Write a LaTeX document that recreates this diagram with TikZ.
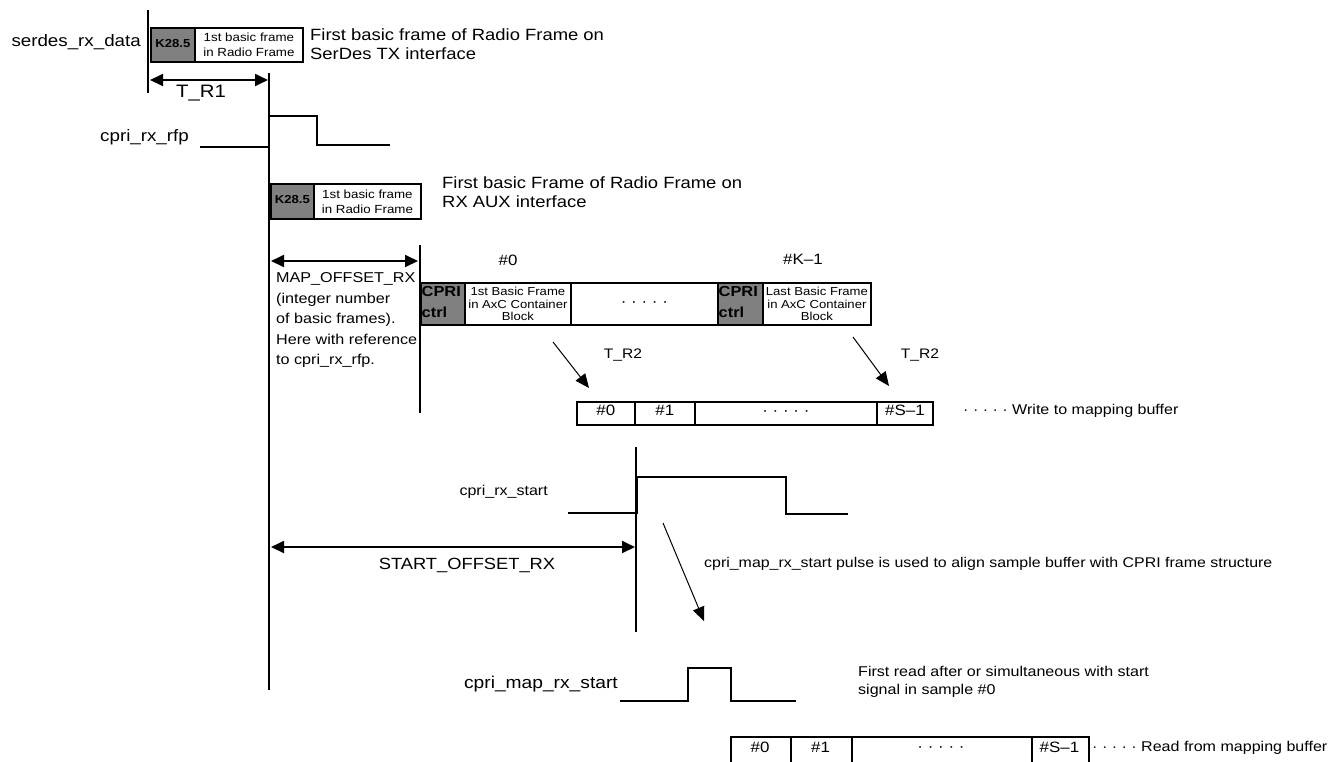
\documentclass[tikz,border=0pt]{standalone}
\usepackage{fontspec}
\setmainfont{Liberation Sans}[FakeStretch=1.13]
\usetikzlibrary{arrows.meta}
\definecolor{ctrlgray}{RGB}{128,128,128}
\tikzset{
  lw/.style={line width=1.8pt},
  sig/.style={line width=1.8pt, line join=miter},
  dimarrow/.style={line width=1.8pt, {Triangle[length=13pt,width=12pt]}-{Triangle[length=13pt,width=12pt]}},
  tarrow/.style={line width=1pt, -{Triangle[length=14pt,width=12pt]}},
  cell/.style={draw, line width=1.8pt, inner sep=0pt, anchor=north west},
  graycell/.style={cell, fill=ctrlgray},
  txt/.style={inner sep=0pt, text height=0.72em, text depth=0.21em},
  mtxt/.style={inner sep=0pt},
  fbig/.style={font=\fontsize{16.3}{19}\selectfont},
  fsig/.style={font=\fontsize{16.6}{19}\selectfont},
  fmed/.style={font=\fontsize{14.2}{19}\selectfont},
  fnum/.style={font=\fontsize{15}{18}\selectfont},
  fsmall/.style={font=\fontsize{11.8}{15}\selectfont},
  fcell/.style={font=\fontsize{11.6}{12.5}\selectfont},
  fk/.style={font=\bfseries\fontsize{11.6}{13}\selectfont},
  fctrl/.style={font=\bfseries\fontsize{14.5}{21}\selectfont},
}
\begin{document}
\begin{tikzpicture}[x=1pt,y=-1pt]
\useasboundingbox (0,0) rectangle (1337,761);

% ---- reference vertical lines
\coordinate (l1t) at (148,10);  \coordinate (l1b) at (148,93);
\coordinate (l2t) at (269,73);  \coordinate (l2b) at (269,690);
\coordinate (l3t) at (420,245); \coordinate (l3b) at (420,413);
\coordinate (l4t) at (636,447); \coordinate (l4b) at (636,632);
\draw[lw] (l1t) -- (l1b);
\draw[lw] (l2t) -- (l2b);
\draw[lw] (l3t) -- (l3b);
\draw[lw] (l4t) -- (l4b);

% ---- serdes_rx_data
\node[txt, fsig, anchor=east] (serdes) at (141,44) {serdes\_rx\_data};
\node[graycell, minimum width=44pt, minimum height=34pt] (k1) at (150,27) {};
\node[cell, minimum width=108pt, minimum height=34pt] (bf1) at (194,27) {};
\node[txt, fk] (k1t) at (k1.center) {K28.5};
\node[mtxt, fsmall, align=center] (bf1t) at (bf1.center) {1st basic frame\\in Radio Frame};
\node[mtxt, fbig, align=left, anchor=west] (note1) at (310,44) {First basic frame of Radio Frame on\\SerDes TX interface};

% ---- T_R1
\coordinate (tr1a) at (150,80); \coordinate (tr1b) at (268,80);
\draw[dimarrow] (tr1a) -- (tr1b);
\node[txt, font=\fontsize{18}{20}\selectfont] (tr1) at (201,95) {T\_R1};

% ---- cpri_rx_rfp
\node[txt, fsig, anchor=east] (rfp) at (189,139) {cpri\_rx\_rfp};
\coordinate (rfp0) at (200,147); \coordinate (rfp1) at (269,147);
\coordinate (rfp2) at (269,116); \coordinate (rfp3) at (317,116);
\coordinate (rfp4) at (317,145); \coordinate (rfp5) at (390,145);
\draw[sig] (rfp0) -- (rfp1) -- (rfp2) -- (rfp3) -- (rfp4) -- (rfp5);

% ---- RX AUX first basic frame
\node[graycell, minimum width=43pt, minimum height=35pt] (k2) at (270,183) {};
\node[cell, minimum width=107pt, minimum height=35pt] (bf2) at (313,183) {};
\node[txt, fk] (k2t) at (k2.center) {K28.5};
\node[mtxt, fsmall, align=center] (bf2t) at (bf2.center) {1st basic frame\\in Radio Frame};
\node[mtxt, fbig, align=left, anchor=west] (note2) at (442,192) {First basic Frame of Radio Frame on\\RX AUX interface};

% ---- MAP_OFFSET_RX
\coordinate (mapa) at (271,261); \coordinate (mapb) at (418,261);
\draw[dimarrow] (mapa) -- (mapb);
\node[mtxt, font=\fontsize{14.3}{20.5}\selectfont, align=left, anchor=west] (maptxt) at (276,320)
  {MAP\_OFFSET\_RX\\(integer number\\of basic frames).\\Here with reference\\to cpri\_rx\_rfp.};

% ---- AxC container blocks
\node[txt, fnum] (blk0) at (508,263) {\#0};
\node[txt, fnum] (blkk) at (803,262) {\#K–1};
\node[graycell, minimum width=44pt, minimum height=42pt] (g1) at (420,282) {};
\node[cell, minimum width=106pt, minimum height=42pt] (c1) at (464,282) {};
\node[cell, minimum width=147pt, minimum height=42pt] (d1) at (570,282) {};
\node[graycell, minimum width=45pt, minimum height=42pt] (g2) at (717,282) {};
\node[cell, minimum width=108pt, minimum height=42pt] (c2) at (762,282) {};
\node[mtxt, fctrl, align=left, anchor=west] (g1t) at (421.5,302) {CPRI\\ctrl};
\node[mtxt, fctrl, align=left, anchor=west] (g2t) at (718.5,302) {CPRI\\ctrl};
\node[mtxt, fcell, align=center] (c1t) at (c1.center) {1st Basic Frame\\in AxC Container\\Block};
\node[mtxt, fcell, align=center] (c2t) at (c2.center) {Last Basic Frame\\in AxC Container\\Block};
\node[txt, fnum] (d1t) at (d1.center) {· · · · ·};

% ---- T_R2 arrows
\coordinate (ta1) at (553,342); \coordinate (tb1) at (589,388);
\coordinate (ta2) at (853,337); \coordinate (tb2) at (889,386);
\draw[tarrow] (ta1) -- (tb1);
\draw[tarrow] (ta2) -- (tb2);
\node[txt, font=\fontsize{13.8}{16}\selectfont] (tr2a) at (623,356) {T\_R2};
\node[txt, font=\fontsize{13.8}{16}\selectfont] (tr2b) at (920,356) {T\_R2};

% ---- write buffer
\node[cell, minimum width=58pt, minimum height=23pt] (w0) at (576,401) {};
\node[cell, minimum width=60pt, minimum height=23pt] (w1) at (634,401) {};
\node[cell, minimum width=182pt, minimum height=23pt] (wd) at (694,401) {};
\node[cell, minimum width=56pt, minimum height=23pt] (ws) at (876,401) {};
\node[txt, fnum] at (w0.center) {\#0};
\node[txt, fnum] at (w1.center) {\#1};
\node[txt, fnum] at (wd.center) {· · · · ·};
\node[txt, fnum] at (ws.center) {\#S–1};
\node[txt, fmed, anchor=west] (wlabel) at (963,412) {· · · · · Write to mapping buffer};

% ---- cpri_rx_start
\node[txt, fmed, anchor=east] (rxs) at (548,493) {cpri\_rx\_start};
\coordinate (rs0) at (568,513); \coordinate (rs1) at (637,513);
\coordinate (rs2) at (637,477); \coordinate (rs3) at (786,477);
\coordinate (rs4) at (786,514); \coordinate (rs5) at (848,514);
\draw[sig] (rs0) -- (rs1) -- (rs2) -- (rs3) -- (rs4) -- (rs5);

% ---- START_OFFSET_RX
\coordinate (soa) at (271,547); \coordinate (sob) at (635,547);
\draw[dimarrow] (soa) -- (sob);
\node[txt, font=\fontsize{16.2}{19}\selectfont] (sotxt) at (467,567) {START\_OFFSET\_RX};

% ---- pulse arrow and note
\coordinate (pa) at (663,523); \coordinate (pb) at (704,621);
\draw[tarrow] (pa) -- (pb);
\node[txt, font=\fontsize{14.1}{17}\selectfont, anchor=west] (pulsetxt) at (704,565)
  {cpri\_map\_rx\_start pulse is used to align sample buffer with CPRI frame structure};

% ---- cpri_map_rx_start
\node[txt, font=\fontsize{17}{19}\selectfont, anchor=east] (mrs) at (618,686) {cpri\_map\_rx\_start};
\coordinate (ms0) at (620,701); \coordinate (ms1) at (688,701);
\coordinate (ms2) at (688,668); \coordinate (ms3) at (731,668);
\coordinate (ms4) at (731,701); \coordinate (ms5) at (796,701);
\draw[sig] (ms0) -- (ms1) -- (ms2) -- (ms3) -- (ms4) -- (ms5);
\node[mtxt, font=\fontsize{14.2}{18.5}\selectfont, align=left, anchor=west] (readnote) at (858,682)
  {First read after or simultaneous with start\\signal in sample \#0};

% ---- read buffer
\node[cell, minimum width=60pt, minimum height=32pt] (r0) at (730,736) {};
\node[cell, minimum width=61pt, minimum height=32pt] (r1) at (790,736) {};
\node[cell, minimum width=180pt, minimum height=32pt] (rd) at (851,736) {};
\node[cell, minimum width=57pt, minimum height=32pt] (rs) at (1031,736) {};
\node[txt, fnum] at (760,750) {\#0};
\node[txt, fnum] at (820.5,750) {\#1};
\node[txt, fnum] at (941,749) {· · · · ·};
\node[txt, fnum] at (1059.5,750) {\#S–1};
\node[txt, fmed, anchor=west] (rlabel) at (1092,749) {· · · · · Read from mapping buffer};
\end{tikzpicture}
\end{document}
